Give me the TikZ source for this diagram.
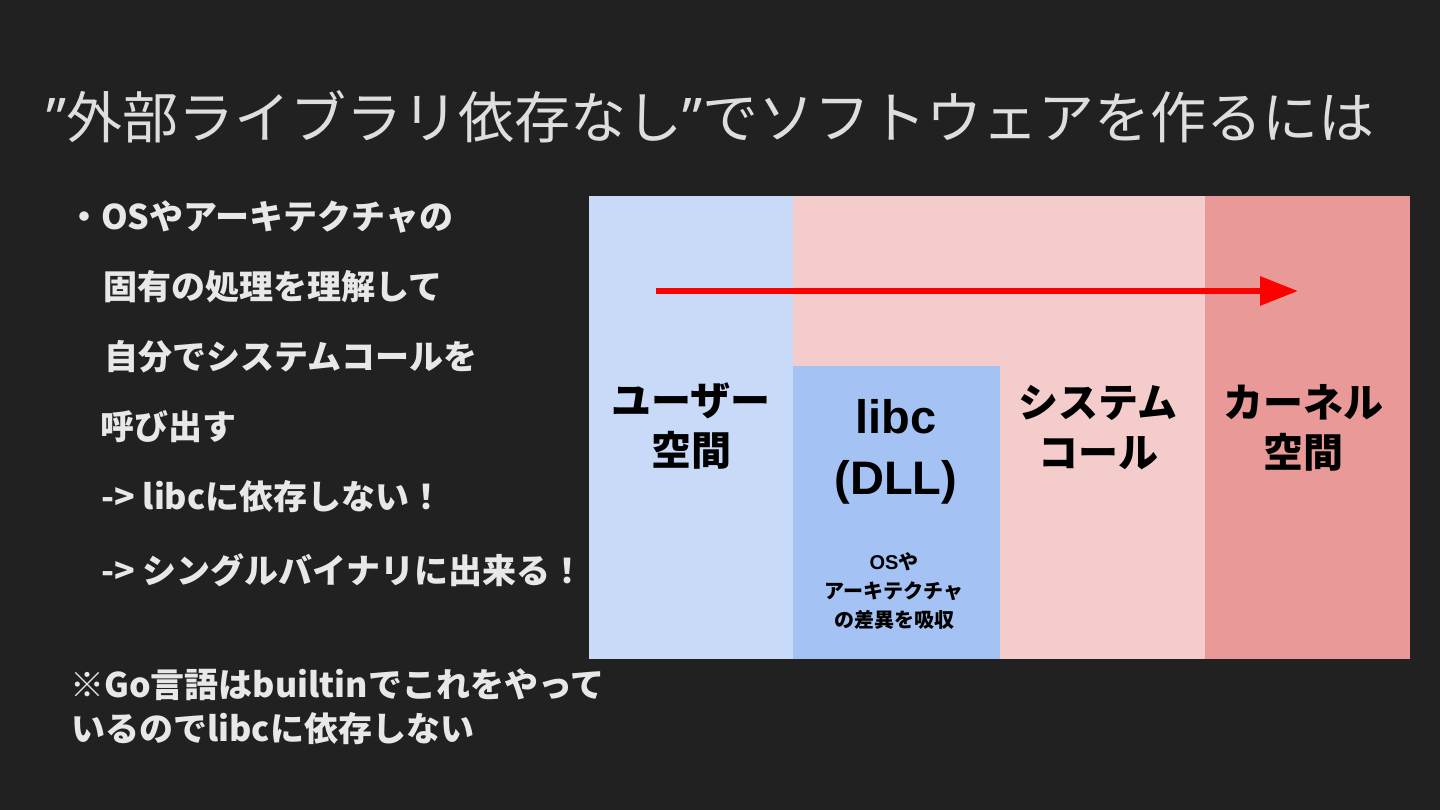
\documentclass[tikz,border=0pt]{standalone}
\usepackage{fontspec}
\usetikzlibrary{arrows.meta}
\newfontfamily\jp{Noto Sans CJK JP}
\newfontfamily\ar{Liberation Sans}
\newfontfamily\qt{Noto Sans}
\definecolor{bg}{HTML}{212121}
\definecolor{ublue}{HTML}{C9DAF8}
\definecolor{lblue}{HTML}{A4C2F4}
\definecolor{pinkbg}{HTML}{F4CCCC}
\definecolor{kred}{HTML}{EA9999}
\definecolor{txt}{HTML}{E8E8E8}
\definecolor{ttl}{HTML}{DEDEDE}
\definecolor{arrred}{HTML}{FF0000}
\begin{document}
\begin{tikzpicture}[x=1pt,y=-1pt,
  region/.style={draw=none,inner sep=0,outer sep=0},
  lab/.style={align=center,inner sep=0,text=black,font=\jp\bfseries\fontsize{40}{50}\selectfont},
  libclab/.style={align=center,inner sep=0,text=black,font=\ar\bfseries\fontsize{47}{61}\selectfont},
  smalllab/.style={align=center,inner sep=0,text=black,font=\jp\bfseries\fontsize{20}{29}\selectfont},
  body/.style={anchor=west,inner sep=0,text=txt,font=\jp\bfseries\fontsize{34}{40}\selectfont},
  ttlstyle/.style={anchor=west,inner sep=0,text=ttl,font=\jp\fontsize{56}{62}\selectfont},
  arr/.style={draw=arrred,line width=6pt,-{Triangle[length=38pt,width=28pt]}}
]
\fill[bg] (0,0) rectangle (1440,810);
\useasboundingbox (0,0) rectangle (1440,810);

% title
\node[ttlstyle] (title) at (46,117) {{\qt ”}外部ライブラリ依存なし{\qt ”}でソフトウェアを作るには};

% left text
\node[body] (l1) at (67,217) {・OSやアーキテクチャの};
\node[body] (l2) at (103,287) {固有の処理を理解して};
\node[body] (l3) at (104,357) {自分でシステムコールを};
\node[body] (l4) at (100,427) {呼び出す};
\node[body] (l5) at (101,497) {-> libcに依存しない！};
\node[body] (l6) at (101,570) {-> シングルバイナリに出来る！};
\node[body] (n1) at (70,685) {※Go言語はbuiltinでこれをやって};
\node[body] (n2) at (71,729) {いるのでlibcに依存しない};

% regions
\node[region,fill=ublue,minimum width=204,minimum height=463] (user) at (691,427.5) {};
\node[region,fill=pinkbg,minimum width=412,minimum height=463] (sys) at (999,427.5) {};
\node[region,fill=lblue,minimum width=207,minimum height=293] (libc) at (896.5,512.5) {};
\node[region,fill=kred,minimum width=205,minimum height=463] (kern) at (1307.5,427.5) {};

% labels
\node[lab] (userlab) at (691,426) {ユーザー\\空間};
\node[libclab] (libclab) at (896,452) {libc\\(DLL)};
\node[smalllab] (libcnote) at (894,591) {{\ar\bfseries OS}や\\アーキテクチャ\\の差異を吸収};
\node[lab] (syslab) at (1098,428) {システム\\コール};
\node[lab] (kernlab) at (1303,428) {カーネル\\空間};

% arrow
\coordinate (as) at (656,291);
\coordinate (ae) at (1298,291);
\draw[arr] (as) -- (ae);
\end{tikzpicture}
\end{document}
